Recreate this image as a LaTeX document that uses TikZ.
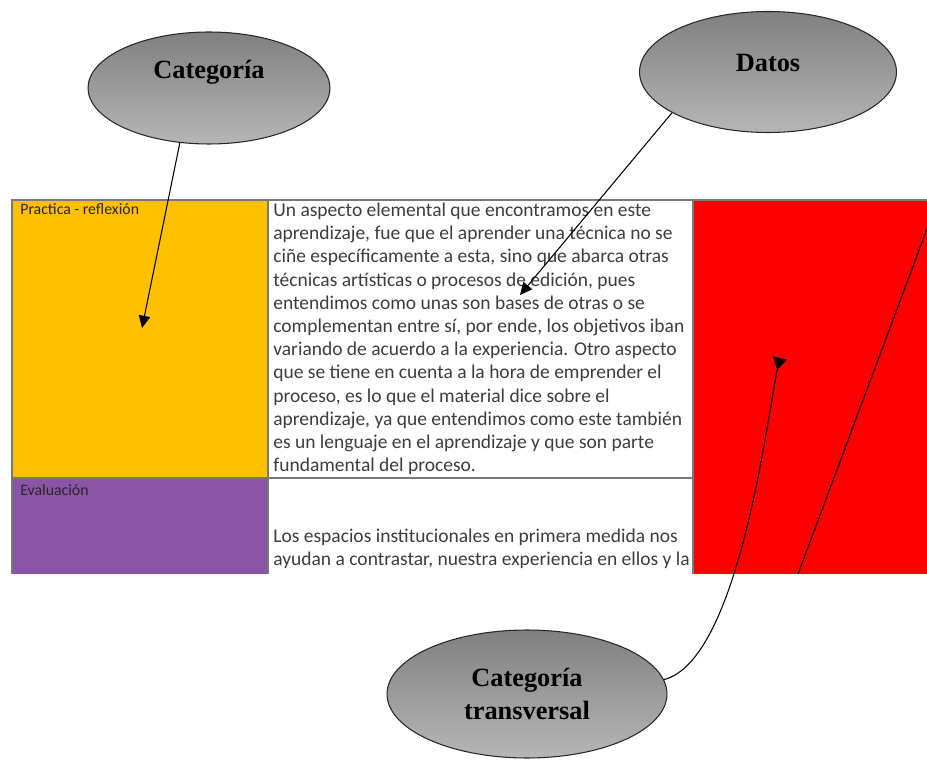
\documentclass[tikz,border=0pt]{standalone}
\usepackage{fontspec}
\setmainfont{Carlito}
\newfontfamily\bubblefont{Liberation Serif}
\usetikzlibrary{shapes.geometric, arrows.meta}
\definecolor{cellyellow}{RGB}{255, 192, 0}
\definecolor{cellpurple}{RGB}{140, 84, 166}
\definecolor{cellred}{RGB}{255, 0, 0}
\definecolor{gridgray}{RGB}{120, 120, 120}
\definecolor{bodytext}{RGB}{60, 60, 60}
\definecolor{bubbletop}{RGB}{128, 128, 128}
\definecolor{bubblebottom}{RGB}{182, 182, 182}

\begin{document}
\begin{tikzpicture}[x=0.02cm, y=-0.02cm,
    bubble/.style={ellipse, draw=black!85, line width=0.6pt, top color=bubbletop, bottom color=bubblebottom},
    bubblelabel/.style={font=\bubblefont\bfseries\fontsize{15}{19}\selectfont, align=center, inner sep=0pt},
    celltext/.style={font=\fontsize{11.1}{13}\selectfont, text=bodytext, anchor=base west, inner sep=0pt},
    headtext/.style={font=\fontsize{9}{10}\selectfont, text=black!85, anchor=base west, inner sep=0pt},
    grid line/.style={gridgray, line width=0.6pt},
    pointer/.style={line width=0.6pt, -{Triangle[length=7pt, width=6.5pt]}}]

    \useasboundingbox (0,0) rectangle (927,760);

    % Cells
    \fill[cellyellow] (12,200) rectangle (268,478);
    \fill[cellpurple] (12,478) rectangle (268,574);
    \fill[cellred] (693,200) rectangle (927,574);

    % Grid
    \draw[grid line] (12,574) -- (12,200) -- (927,200);
    \draw[grid line] (268,200) -- (268,574);
    \draw[grid line] (693,200) -- (693,574);
    \draw[grid line] (12,478) -- (693,478);

    % Row headers
    \node[headtext] (practica) at (20,215) {Practica - reflexión};
    \node[headtext] (evaluacion) at (20,495) {Evaluación};

    % First row text
    \foreach \i/\txt in {0/{Un aspecto elemental que encontramos en este},
                         1/{aprendizaje, fue que el aprender una técnica no se},
                         2/{ciñe específicamente a esta, sino que abarca otras},
                         3/{técnicas artísticas o procesos de edición, pues},
                         4/{entendimos como unas son bases de otras o se},
                         5/{complementan entre sí, por ende, los objetivos iban},
                         6/{variando de acuerdo a la experiencia. Otro aspecto},
                         7/{que se tiene en cuenta a la hora de emprender el},
                         8/{proceso, es lo que el material dice sobre el},
                         9/{aprendizaje, ya que entendimos como este también},
                         10/{es un lenguaje en el aprendizaje y que son parte},
                         11/{fundamental del proceso.}} {
        \node[celltext] (row1-\i) at (273,{216.5+23.2*\i}) {\txt};
    }

    % Second row text
    \node[celltext] (row2-0) at (273,542.5) {Los espacios institucionales en primera medida nos};
    \node[celltext] (row2-1) at (273,565.5) {ayudan a contrastar, nuestra experiencia en ellos y la};

    % Bubbles
    \node[bubble, minimum width=4.84cm, minimum height=2.24cm] (categoria) at (209,88) {};
    \node[bubblelabel, yshift=9pt] (categoria-label) at (categoria) {Categoría};
    \node[bubble, minimum width=5.14cm, minimum height=2.42cm] (datos) at (768,72) {};
    \node[bubblelabel, yshift=5pt] (datos-label) at (datos) {Datos};
    \node[bubble, minimum width=5.6cm, minimum height=2.56cm] (transversal) at (527,694) {};
    \node[bubblelabel] (transversal-label) at (transversal) {Categoría\\transversal};

    % Pointers
    \coordinate (cat-tip) at (142,328);
    \coordinate (datos-tip) at (520,295);
    \coordinate (trans-end) at (780,358);
    \draw[pointer] (categoria.-118) -- (cat-tip);
    \draw[pointer] (datos.203) -- (datos-tip);
    \draw[line width=0.6pt, -{Triangle[reversed, length=7pt, width=8pt]}]
        (transversal.6) .. controls (740,660) and (768,410) .. (trans-end);

    % Line across the red cell
    \coordinate (slash-top) at (927,229);
    \coordinate (slash-bottom) at (798,574);
    \draw[line width=0.6pt] (slash-top) -- (slash-bottom);
\end{tikzpicture}
\end{document}
